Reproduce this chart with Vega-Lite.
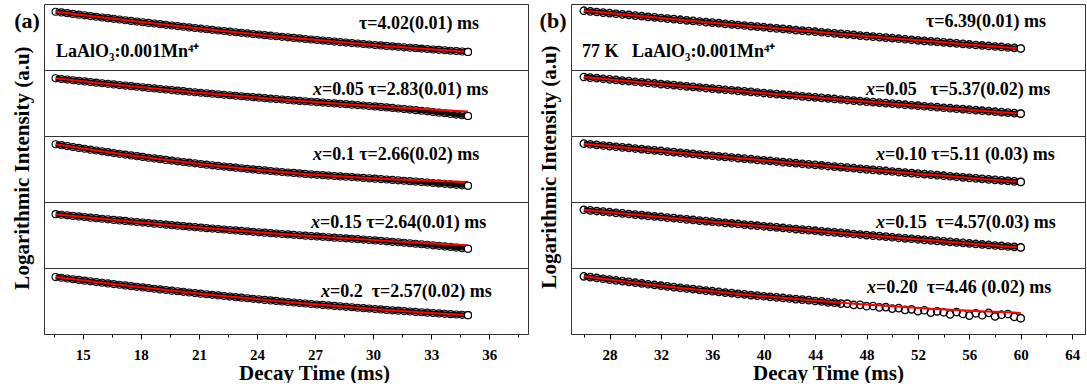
{
"$schema": "https://vega.github.io/schema/vega-lite/v6.json",
"padding": {"left": 11, "top": 0, "right": 0, "bottom": 0},
"background": "white",
"spacing": 9,
"config": {
 "font": "Liberation Serif",
 "view": {"stroke": "#333333", "strokeWidth": 1},
 "axis": {"grid": false, "domainColor": "#000", "domainWidth": 1, "tickColor": "#000", "tickWidth": 1, "labelColor": "#000", "labelFont": "Liberation Serif", "labelFontSize": 15, "labelFontWeight": "bold", "labelPadding": 8, "labelOverlap": false, "labelFlush": false, "titleColor": "#000", "titleFont": "Liberation Serif", "titleFontSize": 21, "titleFontWeight": "bold", "titlePadding": 0},
 "header": {"titleFont": "Liberation Serif", "titleFontSize": 21, "titleFontWeight": "bold", "titleColor": "#000", "titlePadding": 1},
 "text": {"font": "Liberation Serif", "fontWeight": "bold", "fontSize": 18, "color": "#000"}
},
"datasets": {
"A": [
{"c":"a1","t":13.6,"v":88.3},{"c":"a1","t":13.9,"v":87.2},{"c":"a1","t":14.2,"v":86.1},{"c":"a1","t":14.5,"v":85.0},{"c":"a1","t":14.8,"v":83.9},{"c":"a1","t":15.1,"v":82.8},{"c":"a1","t":15.4,"v":81.7},{"c":"a1","t":15.7,"v":80.7},{"c":"a1","t":16.0,"v":79.6},{"c":"a1","t":16.3,"v":78.5},{"c":"a1","t":16.6,"v":77.5},{"c":"a1","t":16.9,"v":76.5},{"c":"a1","t":17.2,"v":75.4},{"c":"a1","t":17.5,"v":74.4},{"c":"a1","t":17.8,"v":73.4},{"c":"a1","t":18.1,"v":72.4},{"c":"a1","t":18.4,"v":71.4},{"c":"a1","t":18.7,"v":70.4},{"c":"a1","t":19.0,"v":69.4},{"c":"a1","t":19.3,"v":68.4},{"c":"a1","t":19.6,"v":67.4},{"c":"a1","t":19.9,"v":66.5},{"c":"a1","t":20.2,"v":65.5},{"c":"a1","t":20.5,"v":64.5},{"c":"a1","t":20.8,"v":63.6},{"c":"a1","t":21.1,"v":62.7},{"c":"a1","t":21.4,"v":61.7},{"c":"a1","t":21.7,"v":60.8},{"c":"a1","t":22.0,"v":59.9},{"c":"a1","t":22.3,"v":59.0},{"c":"a1","t":22.6,"v":58.1},{"c":"a1","t":22.9,"v":57.2},{"c":"a1","t":23.2,"v":56.3},{"c":"a1","t":23.5,"v":55.4},{"c":"a1","t":23.8,"v":54.5},{"c":"a1","t":24.1,"v":53.7},{"c":"a1","t":24.4,"v":52.8},{"c":"a1","t":24.7,"v":52.0},{"c":"a1","t":25.0,"v":51.1},{"c":"a1","t":25.3,"v":50.3},{"c":"a1","t":25.6,"v":49.5},{"c":"a1","t":25.9,"v":48.6},{"c":"a1","t":26.2,"v":47.8},{"c":"a1","t":26.5,"v":47.0},{"c":"a1","t":26.8,"v":46.2},{"c":"a1","t":27.1,"v":45.4},{"c":"a1","t":27.4,"v":44.6},{"c":"a1","t":27.7,"v":43.9},{"c":"a1","t":28.0,"v":43.1},{"c":"a1","t":28.3,"v":42.3},{"c":"a1","t":28.6,"v":41.6},{"c":"a1","t":28.9,"v":40.8},{"c":"a1","t":29.2,"v":40.1},{"c":"a1","t":29.5,"v":39.4},{"c":"a1","t":29.8,"v":38.6},{"c":"a1","t":30.1,"v":37.9},{"c":"a1","t":30.4,"v":37.2},{"c":"a1","t":30.7,"v":36.5},{"c":"a1","t":31.0,"v":35.8},{"c":"a1","t":31.3,"v":35.1},{"c":"a1","t":31.6,"v":34.4},{"c":"a1","t":31.9,"v":33.7},{"c":"a1","t":32.2,"v":33.1},{"c":"a1","t":32.5,"v":32.4},{"c":"a1","t":32.8,"v":31.8},{"c":"a1","t":33.1,"v":31.1},{"c":"a1","t":33.4,"v":30.5},{"c":"a1","t":33.7,"v":29.9},{"c":"a1","t":34.0,"v":29.2},{"c":"a1","t":34.3,"v":28.6},{"c":"a1","t":34.6,"v":28.0},{"c":"a1","t":34.9,"v":27.4},
{"c":"a2","t":13.6,"v":87.4},{"c":"a2","t":13.9,"v":86.4},{"c":"a2","t":14.2,"v":85.5},{"c":"a2","t":14.5,"v":84.5},{"c":"a2","t":14.8,"v":83.6},{"c":"a2","t":15.1,"v":82.7},{"c":"a2","t":15.4,"v":81.7},{"c":"a2","t":15.7,"v":80.8},{"c":"a2","t":16.0,"v":79.9},{"c":"a2","t":16.3,"v":79.0},{"c":"a2","t":16.6,"v":78.1},{"c":"a2","t":16.9,"v":77.2},{"c":"a2","t":17.2,"v":76.4},{"c":"a2","t":17.5,"v":75.5},{"c":"a2","t":17.8,"v":74.6},{"c":"a2","t":18.1,"v":73.8},{"c":"a2","t":18.4,"v":72.9},{"c":"a2","t":18.7,"v":72.1},{"c":"a2","t":19.0,"v":71.2},{"c":"a2","t":19.3,"v":70.4},{"c":"a2","t":19.6,"v":69.6},{"c":"a2","t":19.9,"v":68.7},{"c":"a2","t":20.2,"v":67.9},{"c":"a2","t":20.5,"v":67.1},{"c":"a2","t":20.8,"v":66.3},{"c":"a2","t":21.1,"v":65.5},{"c":"a2","t":21.4,"v":64.8},{"c":"a2","t":21.7,"v":64.0},{"c":"a2","t":22.0,"v":63.2},{"c":"a2","t":22.3,"v":62.5},{"c":"a2","t":22.6,"v":61.7},{"c":"a2","t":22.9,"v":61.0},{"c":"a2","t":23.2,"v":60.2},{"c":"a2","t":23.5,"v":59.5},{"c":"a2","t":23.8,"v":58.8},{"c":"a2","t":24.1,"v":58.1},{"c":"a2","t":24.4,"v":57.3},{"c":"a2","t":24.7,"v":56.6},{"c":"a2","t":25.0,"v":55.9},{"c":"a2","t":25.3,"v":55.3},{"c":"a2","t":25.6,"v":54.6},{"c":"a2","t":25.9,"v":53.9},{"c":"a2","t":26.2,"v":53.2},{"c":"a2","t":26.5,"v":52.6},{"c":"a2","t":26.8,"v":51.9},{"c":"a2","t":27.1,"v":51.3},{"c":"a2","t":27.4,"v":50.6},{"c":"a2","t":27.7,"v":50.0},{"c":"a2","t":28.0,"v":49.4},{"c":"a2","t":28.3,"v":48.8},{"c":"a2","t":28.6,"v":48.2},{"c":"a2","t":28.9,"v":47.5},{"c":"a2","t":29.2,"v":46.9},{"c":"a2","t":29.5,"v":46.2},{"c":"a2","t":29.8,"v":45.5},{"c":"a2","t":30.1,"v":44.8},{"c":"a2","t":30.4,"v":44.1},{"c":"a2","t":30.7,"v":43.3},{"c":"a2","t":31.0,"v":42.5},{"c":"a2","t":31.3,"v":41.7},{"c":"a2","t":31.6,"v":40.9},{"c":"a2","t":31.9,"v":40.0},{"c":"a2","t":32.2,"v":39.2},{"c":"a2","t":32.5,"v":38.3},{"c":"a2","t":32.8,"v":37.4},{"c":"a2","t":33.1,"v":36.4},{"c":"a2","t":33.4,"v":35.4},{"c":"a2","t":33.7,"v":34.5},{"c":"a2","t":34.0,"v":33.5},{"c":"a2","t":34.3,"v":32.4},{"c":"a2","t":34.6,"v":31.4},{"c":"a2","t":34.9,"v":30.3},
{"c":"a3","t":13.6,"v":87.5},{"c":"a3","t":13.9,"v":86.1},{"c":"a3","t":14.2,"v":84.7},{"c":"a3","t":14.5,"v":83.3},{"c":"a3","t":14.8,"v":82.0},{"c":"a3","t":15.1,"v":80.7},{"c":"a3","t":15.4,"v":79.3},{"c":"a3","t":15.7,"v":78.0},{"c":"a3","t":16.0,"v":76.8},{"c":"a3","t":16.3,"v":75.5},{"c":"a3","t":16.6,"v":74.3},{"c":"a3","t":16.9,"v":73.0},{"c":"a3","t":17.2,"v":71.8},{"c":"a3","t":17.5,"v":70.6},{"c":"a3","t":17.8,"v":69.4},{"c":"a3","t":18.1,"v":68.3},{"c":"a3","t":18.4,"v":67.1},{"c":"a3","t":18.7,"v":66.0},{"c":"a3","t":19.0,"v":64.9},{"c":"a3","t":19.3,"v":63.8},{"c":"a3","t":19.6,"v":62.7},{"c":"a3","t":19.9,"v":61.6},{"c":"a3","t":20.2,"v":60.6},{"c":"a3","t":20.5,"v":59.6},{"c":"a3","t":20.8,"v":58.6},{"c":"a3","t":21.1,"v":57.6},{"c":"a3","t":21.4,"v":56.6},{"c":"a3","t":21.7,"v":55.6},{"c":"a3","t":22.0,"v":54.7},{"c":"a3","t":22.3,"v":53.7},{"c":"a3","t":22.6,"v":52.8},{"c":"a3","t":22.9,"v":52.0},{"c":"a3","t":23.2,"v":51.1},{"c":"a3","t":23.5,"v":50.2},{"c":"a3","t":23.8,"v":49.4},{"c":"a3","t":24.1,"v":48.6},{"c":"a3","t":24.4,"v":47.8},{"c":"a3","t":24.7,"v":47.0},{"c":"a3","t":25.0,"v":46.2},{"c":"a3","t":25.3,"v":45.4},{"c":"a3","t":25.6,"v":44.7},{"c":"a3","t":25.9,"v":44.0},{"c":"a3","t":26.2,"v":43.3},{"c":"a3","t":26.5,"v":42.6},{"c":"a3","t":26.8,"v":41.9},{"c":"a3","t":27.1,"v":41.2},{"c":"a3","t":27.4,"v":40.6},{"c":"a3","t":27.7,"v":40.0},{"c":"a3","t":28.0,"v":39.4},{"c":"a3","t":28.3,"v":38.8},{"c":"a3","t":28.6,"v":38.2},{"c":"a3","t":28.9,"v":37.7},{"c":"a3","t":29.2,"v":37.1},{"c":"a3","t":29.5,"v":36.5},{"c":"a3","t":29.8,"v":35.9},{"c":"a3","t":30.1,"v":35.3},{"c":"a3","t":30.4,"v":34.7},{"c":"a3","t":30.7,"v":34.1},{"c":"a3","t":31.0,"v":33.4},{"c":"a3","t":31.3,"v":32.8},{"c":"a3","t":31.6,"v":32.2},{"c":"a3","t":31.9,"v":31.5},{"c":"a3","t":32.2,"v":30.9},{"c":"a3","t":32.5,"v":30.2},{"c":"a3","t":32.8,"v":29.5},{"c":"a3","t":33.1,"v":28.8},{"c":"a3","t":33.4,"v":28.2},{"c":"a3","t":33.7,"v":27.5},{"c":"a3","t":34.0,"v":26.8},{"c":"a3","t":34.3,"v":26.0},{"c":"a3","t":34.6,"v":25.3},{"c":"a3","t":34.9,"v":24.6},
{"c":"a4","t":13.6,"v":81.6},{"c":"a4","t":13.9,"v":80.7},{"c":"a4","t":14.2,"v":79.8},{"c":"a4","t":14.5,"v":78.9},{"c":"a4","t":14.8,"v":78.1},{"c":"a4","t":15.1,"v":77.2},{"c":"a4","t":15.4,"v":76.3},{"c":"a4","t":15.7,"v":75.5},{"c":"a4","t":16.0,"v":74.6},{"c":"a4","t":16.3,"v":73.8},{"c":"a4","t":16.6,"v":72.9},{"c":"a4","t":16.9,"v":72.1},{"c":"a4","t":17.2,"v":71.3},{"c":"a4","t":17.5,"v":70.4},{"c":"a4","t":17.8,"v":69.6},{"c":"a4","t":18.1,"v":68.8},{"c":"a4","t":18.4,"v":68.0},{"c":"a4","t":18.7,"v":67.2},{"c":"a4","t":19.0,"v":66.5},{"c":"a4","t":19.3,"v":65.7},{"c":"a4","t":19.6,"v":64.9},{"c":"a4","t":19.9,"v":64.1},{"c":"a4","t":20.2,"v":63.4},{"c":"a4","t":20.5,"v":62.6},{"c":"a4","t":20.8,"v":61.9},{"c":"a4","t":21.1,"v":61.1},{"c":"a4","t":21.4,"v":60.4},{"c":"a4","t":21.7,"v":59.7},{"c":"a4","t":22.0,"v":59.0},{"c":"a4","t":22.3,"v":58.3},{"c":"a4","t":22.6,"v":57.6},{"c":"a4","t":22.9,"v":56.9},{"c":"a4","t":23.2,"v":56.2},{"c":"a4","t":23.5,"v":55.5},{"c":"a4","t":23.8,"v":54.8},{"c":"a4","t":24.1,"v":54.1},{"c":"a4","t":24.4,"v":53.5},{"c":"a4","t":24.7,"v":52.8},{"c":"a4","t":25.0,"v":52.2},{"c":"a4","t":25.3,"v":51.5},{"c":"a4","t":25.6,"v":50.9},{"c":"a4","t":25.9,"v":50.2},{"c":"a4","t":26.2,"v":49.6},{"c":"a4","t":26.5,"v":49.0},{"c":"a4","t":26.8,"v":48.4},{"c":"a4","t":27.1,"v":47.8},{"c":"a4","t":27.4,"v":47.2},{"c":"a4","t":27.7,"v":46.6},{"c":"a4","t":28.0,"v":46.0},{"c":"a4","t":28.3,"v":45.4},{"c":"a4","t":28.6,"v":44.9},{"c":"a4","t":28.9,"v":44.3},{"c":"a4","t":29.2,"v":43.7},{"c":"a4","t":29.5,"v":43.1},{"c":"a4","t":29.8,"v":42.4},{"c":"a4","t":30.1,"v":41.8},{"c":"a4","t":30.4,"v":41.1},{"c":"a4","t":30.7,"v":40.4},{"c":"a4","t":31.0,"v":39.7},{"c":"a4","t":31.3,"v":39.0},{"c":"a4","t":31.6,"v":38.3},{"c":"a4","t":31.9,"v":37.5},{"c":"a4","t":32.2,"v":36.8},{"c":"a4","t":32.5,"v":36.0},{"c":"a4","t":32.8,"v":35.2},{"c":"a4","t":33.1,"v":34.4},{"c":"a4","t":33.4,"v":33.6},{"c":"a4","t":33.7,"v":32.7},{"c":"a4","t":34.0,"v":31.9},{"c":"a4","t":34.3,"v":31.0},{"c":"a4","t":34.6,"v":30.1},{"c":"a4","t":34.9,"v":29.2},
{"c":"a5","t":13.6,"v":86.3},{"c":"a5","t":13.9,"v":85.2},{"c":"a5","t":14.2,"v":84.1},{"c":"a5","t":14.5,"v":83.0},{"c":"a5","t":14.8,"v":81.9},{"c":"a5","t":15.1,"v":80.8},{"c":"a5","t":15.4,"v":79.8},{"c":"a5","t":15.7,"v":78.7},{"c":"a5","t":16.0,"v":77.7},{"c":"a5","t":16.3,"v":76.6},{"c":"a5","t":16.6,"v":75.6},{"c":"a5","t":16.9,"v":74.6},{"c":"a5","t":17.2,"v":73.6},{"c":"a5","t":17.5,"v":72.5},{"c":"a5","t":17.8,"v":71.5},{"c":"a5","t":18.1,"v":70.6},{"c":"a5","t":18.4,"v":69.6},{"c":"a5","t":18.7,"v":68.6},{"c":"a5","t":19.0,"v":67.6},{"c":"a5","t":19.3,"v":66.7},{"c":"a5","t":19.6,"v":65.7},{"c":"a5","t":19.9,"v":64.8},{"c":"a5","t":20.2,"v":63.9},{"c":"a5","t":20.5,"v":62.9},{"c":"a5","t":20.8,"v":62.0},{"c":"a5","t":21.1,"v":61.1},{"c":"a5","t":21.4,"v":60.2},{"c":"a5","t":21.7,"v":59.3},{"c":"a5","t":22.0,"v":58.4},{"c":"a5","t":22.3,"v":57.6},{"c":"a5","t":22.6,"v":56.7},{"c":"a5","t":22.9,"v":55.8},{"c":"a5","t":23.2,"v":55.0},{"c":"a5","t":23.5,"v":54.2},{"c":"a5","t":23.8,"v":53.3},{"c":"a5","t":24.1,"v":52.5},{"c":"a5","t":24.4,"v":51.7},{"c":"a5","t":24.7,"v":50.9},{"c":"a5","t":25.0,"v":50.1},{"c":"a5","t":25.3,"v":49.3},{"c":"a5","t":25.6,"v":48.5},{"c":"a5","t":25.9,"v":47.7},{"c":"a5","t":26.2,"v":47.0},{"c":"a5","t":26.5,"v":46.2},{"c":"a5","t":26.8,"v":45.5},{"c":"a5","t":27.1,"v":44.7},{"c":"a5","t":27.4,"v":44.0},{"c":"a5","t":27.7,"v":43.3},{"c":"a5","t":28.0,"v":42.6},{"c":"a5","t":28.3,"v":41.9},{"c":"a5","t":28.6,"v":41.2},{"c":"a5","t":28.9,"v":40.5},{"c":"a5","t":29.2,"v":39.8},{"c":"a5","t":29.5,"v":39.1},{"c":"a5","t":29.8,"v":38.5},{"c":"a5","t":30.1,"v":37.8},{"c":"a5","t":30.4,"v":37.2},{"c":"a5","t":30.7,"v":36.5},{"c":"a5","t":31.0,"v":35.9},{"c":"a5","t":31.3,"v":35.3},{"c":"a5","t":31.6,"v":34.7},{"c":"a5","t":31.9,"v":34.1},{"c":"a5","t":32.2,"v":33.5},{"c":"a5","t":32.5,"v":32.9},{"c":"a5","t":32.8,"v":32.3},{"c":"a5","t":33.1,"v":31.7},{"c":"a5","t":33.4,"v":31.2},{"c":"a5","t":33.7,"v":30.6},{"c":"a5","t":34.0,"v":30.1},{"c":"a5","t":34.3,"v":29.5},{"c":"a5","t":34.6,"v":29.0},{"c":"a5","t":34.9,"v":28.5},
{"c":"a1","t":13.6,"f":88.3},{"c":"a1","t":15.7,"f":80.7},{"c":"a1","t":17.8,"f":73.4},{"c":"a1","t":19.9,"f":66.5},{"c":"a1","t":22.0,"f":59.9},{"c":"a1","t":24.4,"f":52.8},{"c":"a1","t":26.5,"f":47.0},{"c":"a1","t":28.6,"f":41.6},{"c":"a1","t":30.7,"f":36.5},{"c":"a1","t":32.8,"f":31.8},{"c":"a1","t":34.9,"f":27.4},
{"c":"a2","t":13.6,"f":87.4},{"c":"a2","t":15.7,"f":80.8},{"c":"a2","t":17.8,"f":74.6},{"c":"a2","t":19.9,"f":68.7},{"c":"a2","t":22.0,"f":63.2},{"c":"a2","t":24.4,"f":57.3},{"c":"a2","t":26.5,"f":52.6},{"c":"a2","t":28.6,"f":48.2},{"c":"a2","t":30.7,"f":44.1},{"c":"a2","t":32.8,"f":40.4},{"c":"a2","t":34.9,"f":37.0},
{"c":"a3","t":13.6,"f":87.5},{"c":"a3","t":15.7,"f":78.0},{"c":"a3","t":17.8,"f":69.4},{"c":"a3","t":19.9,"f":61.6},{"c":"a3","t":22.0,"f":54.7},{"c":"a3","t":24.4,"f":47.8},{"c":"a3","t":26.5,"f":42.6},{"c":"a3","t":28.6,"f":38.2},{"c":"a3","t":30.7,"f":34.7},{"c":"a3","t":32.8,"f":32.1},{"c":"a3","t":34.9,"f":30.2},
{"c":"a4","t":13.6,"f":81.6},{"c":"a4","t":15.7,"f":75.5},{"c":"a4","t":17.8,"f":69.6},{"c":"a4","t":19.9,"f":64.1},{"c":"a4","t":22.0,"f":59.0},{"c":"a4","t":24.4,"f":53.5},{"c":"a4","t":26.5,"f":49.0},{"c":"a4","t":28.6,"f":44.9},{"c":"a4","t":30.7,"f":41.1},{"c":"a4","t":32.8,"f":37.6},{"c":"a4","t":34.9,"f":34.4},
{"c":"a5","t":13.6,"f":86.3},{"c":"a5","t":15.7,"f":78.7},{"c":"a5","t":17.8,"f":71.5},{"c":"a5","t":19.9,"f":64.8},{"c":"a5","t":22.0,"f":58.4},{"c":"a5","t":24.4,"f":51.7},{"c":"a5","t":26.5,"f":46.2},{"c":"a5","t":28.6,"f":41.2},{"c":"a5","t":30.7,"f":36.5},{"c":"a5","t":32.8,"f":32.3},{"c":"a5","t":34.9,"f":28.5},
{"c":"a1","t":12.12,"ly":74.2,"p":"(a)"},
{"c":"a1","t":29.27,"ly":69.6,"lab":"τ=4.02(0.01) ms"},
{"c":"a1","t":13.62,"ly":26.9,"lab":"LaAlO₃:0.001Mn⁴⁺"},
{"c":"a2","t":26.89,"ly":69.7,"x":"x","lab":"=0.05 τ=2.83(0.01) ms"},
{"c":"a3","t":26.89,"ly":71.3,"x":"x","lab":"=0.1 τ=2.66(0.02) ms"},
{"c":"a4","t":26.79,"ly":68.8,"x":"x","lab":"=0.15 τ=2.64(0.01) ms"},
{"c":"a5","t":27.31,"ly":64.2,"x":"x","lab":"=0.2\u00a0\u00a0τ=2.57(0.02) ms"}
],
"B": [
{"c":"b1","t":26.0,"v":89.8},{"c":"b1","t":26.5,"v":88.9},{"c":"b1","t":27.0,"v":87.9},{"c":"b1","t":27.5,"v":87.0},{"c":"b1","t":28.0,"v":86.1},{"c":"b1","t":28.5,"v":85.2},{"c":"b1","t":29.0,"v":84.3},{"c":"b1","t":29.5,"v":83.4},{"c":"b1","t":30.0,"v":82.4},{"c":"b1","t":30.5,"v":81.5},{"c":"b1","t":31.0,"v":80.6},{"c":"b1","t":31.5,"v":79.7},{"c":"b1","t":32.0,"v":78.8},{"c":"b1","t":32.5,"v":77.9},{"c":"b1","t":33.0,"v":77.0},{"c":"b1","t":33.5,"v":76.2},{"c":"b1","t":34.0,"v":75.3},{"c":"b1","t":34.5,"v":74.4},{"c":"b1","t":35.0,"v":73.5},{"c":"b1","t":35.5,"v":72.6},{"c":"b1","t":36.0,"v":71.7},{"c":"b1","t":36.5,"v":70.9},{"c":"b1","t":37.0,"v":70.0},{"c":"b1","t":37.5,"v":69.1},{"c":"b1","t":38.0,"v":68.2},{"c":"b1","t":38.5,"v":67.4},{"c":"b1","t":39.0,"v":66.5},{"c":"b1","t":39.5,"v":65.7},{"c":"b1","t":40.0,"v":64.8},{"c":"b1","t":40.5,"v":63.9},{"c":"b1","t":41.0,"v":63.1},{"c":"b1","t":41.5,"v":62.2},{"c":"b1","t":42.0,"v":61.4},{"c":"b1","t":42.5,"v":60.5},{"c":"b1","t":43.0,"v":59.7},{"c":"b1","t":43.5,"v":58.9},{"c":"b1","t":44.0,"v":58.0},{"c":"b1","t":44.5,"v":57.2},{"c":"b1","t":45.0,"v":56.4},{"c":"b1","t":45.5,"v":55.5},{"c":"b1","t":46.0,"v":54.7},{"c":"b1","t":46.5,"v":53.9},{"c":"b1","t":47.0,"v":53.1},{"c":"b1","t":47.5,"v":52.2},{"c":"b1","t":48.0,"v":51.4},{"c":"b1","t":48.5,"v":50.6},{"c":"b1","t":49.0,"v":49.8},{"c":"b1","t":49.5,"v":49.0},{"c":"b1","t":50.0,"v":48.2},{"c":"b1","t":50.5,"v":47.4},{"c":"b1","t":51.0,"v":46.6},{"c":"b1","t":51.5,"v":45.8},{"c":"b1","t":52.0,"v":45.0},{"c":"b1","t":52.5,"v":44.2},{"c":"b1","t":53.0,"v":43.4},{"c":"b1","t":53.5,"v":42.6},{"c":"b1","t":54.0,"v":41.8},{"c":"b1","t":54.5,"v":41.0},{"c":"b1","t":55.0,"v":40.3},{"c":"b1","t":55.5,"v":39.5},{"c":"b1","t":56.0,"v":38.7},{"c":"b1","t":56.5,"v":37.9},{"c":"b1","t":57.0,"v":37.2},{"c":"b1","t":57.5,"v":36.4},{"c":"b1","t":58.0,"v":35.6},{"c":"b1","t":58.5,"v":34.9},{"c":"b1","t":59.0,"v":34.1},{"c":"b1","t":59.5,"v":33.4},{"c":"b1","t":60.0,"v":32.6},
{"c":"b2","t":26.0,"v":89.4},{"c":"b2","t":26.5,"v":88.5},{"c":"b2","t":27.0,"v":87.6},{"c":"b2","t":27.5,"v":86.7},{"c":"b2","t":28.0,"v":85.8},{"c":"b2","t":28.5,"v":84.9},{"c":"b2","t":29.0,"v":84.0},{"c":"b2","t":29.5,"v":83.1},{"c":"b2","t":30.0,"v":82.2},{"c":"b2","t":30.5,"v":81.4},{"c":"b2","t":31.0,"v":80.5},{"c":"b2","t":31.5,"v":79.6},{"c":"b2","t":32.0,"v":78.7},{"c":"b2","t":32.5,"v":77.9},{"c":"b2","t":33.0,"v":77.0},{"c":"b2","t":33.5,"v":76.1},{"c":"b2","t":34.0,"v":75.3},{"c":"b2","t":34.5,"v":74.4},{"c":"b2","t":35.0,"v":73.5},{"c":"b2","t":35.5,"v":72.7},{"c":"b2","t":36.0,"v":71.8},{"c":"b2","t":36.5,"v":71.0},{"c":"b2","t":37.0,"v":70.1},{"c":"b2","t":37.5,"v":69.3},{"c":"b2","t":38.0,"v":68.4},{"c":"b2","t":38.5,"v":67.6},{"c":"b2","t":39.0,"v":66.8},{"c":"b2","t":39.5,"v":65.9},{"c":"b2","t":40.0,"v":65.1},{"c":"b2","t":40.5,"v":64.3},{"c":"b2","t":41.0,"v":63.4},{"c":"b2","t":41.5,"v":62.6},{"c":"b2","t":42.0,"v":61.8},{"c":"b2","t":42.5,"v":61.0},{"c":"b2","t":43.0,"v":60.1},{"c":"b2","t":43.5,"v":59.3},{"c":"b2","t":44.0,"v":58.5},{"c":"b2","t":44.5,"v":57.7},{"c":"b2","t":45.0,"v":56.9},{"c":"b2","t":45.5,"v":56.1},{"c":"b2","t":46.0,"v":55.3},{"c":"b2","t":46.5,"v":54.5},{"c":"b2","t":47.0,"v":53.7},{"c":"b2","t":47.5,"v":52.9},{"c":"b2","t":48.0,"v":52.1},{"c":"b2","t":48.5,"v":51.3},{"c":"b2","t":49.0,"v":50.5},{"c":"b2","t":49.5,"v":49.8},{"c":"b2","t":50.0,"v":49.0},{"c":"b2","t":50.5,"v":48.2},{"c":"b2","t":51.0,"v":47.4},{"c":"b2","t":51.5,"v":46.6},{"c":"b2","t":52.0,"v":45.9},{"c":"b2","t":52.5,"v":45.1},{"c":"b2","t":53.0,"v":44.3},{"c":"b2","t":53.5,"v":43.6},{"c":"b2","t":54.0,"v":42.8},{"c":"b2","t":54.5,"v":42.1},{"c":"b2","t":55.0,"v":41.3},{"c":"b2","t":55.5,"v":40.6},{"c":"b2","t":56.0,"v":39.8},{"c":"b2","t":56.5,"v":39.1},{"c":"b2","t":57.0,"v":38.3},{"c":"b2","t":57.5,"v":37.6},{"c":"b2","t":58.0,"v":36.8},{"c":"b2","t":58.5,"v":36.1},{"c":"b2","t":59.0,"v":35.4},{"c":"b2","t":59.5,"v":34.6},{"c":"b2","t":60.0,"v":33.9},
{"c":"b3","t":26.0,"v":88.4},{"c":"b3","t":26.5,"v":87.5},{"c":"b3","t":27.0,"v":86.5},{"c":"b3","t":27.5,"v":85.6},{"c":"b3","t":28.0,"v":84.7},{"c":"b3","t":28.5,"v":83.7},{"c":"b3","t":29.0,"v":82.8},{"c":"b3","t":29.5,"v":81.9},{"c":"b3","t":30.0,"v":81.0},{"c":"b3","t":30.5,"v":80.0},{"c":"b3","t":31.0,"v":79.1},{"c":"b3","t":31.5,"v":78.2},{"c":"b3","t":32.0,"v":77.3},{"c":"b3","t":32.5,"v":76.4},{"c":"b3","t":33.0,"v":75.5},{"c":"b3","t":33.5,"v":74.6},{"c":"b3","t":34.0,"v":73.7},{"c":"b3","t":34.5,"v":72.8},{"c":"b3","t":35.0,"v":71.9},{"c":"b3","t":35.5,"v":71.0},{"c":"b3","t":36.0,"v":70.1},{"c":"b3","t":36.5,"v":69.2},{"c":"b3","t":37.0,"v":68.3},{"c":"b3","t":37.5,"v":67.4},{"c":"b3","t":38.0,"v":66.6},{"c":"b3","t":38.5,"v":65.7},{"c":"b3","t":39.0,"v":64.8},{"c":"b3","t":39.5,"v":63.9},{"c":"b3","t":40.0,"v":63.1},{"c":"b3","t":40.5,"v":62.2},{"c":"b3","t":41.0,"v":61.3},{"c":"b3","t":41.5,"v":60.5},{"c":"b3","t":42.0,"v":59.6},{"c":"b3","t":42.5,"v":58.8},{"c":"b3","t":43.0,"v":57.9},{"c":"b3","t":43.5,"v":57.0},{"c":"b3","t":44.0,"v":56.2},{"c":"b3","t":44.5,"v":55.4},{"c":"b3","t":45.0,"v":54.5},{"c":"b3","t":45.5,"v":53.7},{"c":"b3","t":46.0,"v":52.8},{"c":"b3","t":46.5,"v":52.0},{"c":"b3","t":47.0,"v":51.2},{"c":"b3","t":47.5,"v":50.3},{"c":"b3","t":48.0,"v":49.5},{"c":"b3","t":48.5,"v":48.7},{"c":"b3","t":49.0,"v":47.9},{"c":"b3","t":49.5,"v":47.0},{"c":"b3","t":50.0,"v":46.2},{"c":"b3","t":50.5,"v":45.4},{"c":"b3","t":51.0,"v":44.6},{"c":"b3","t":51.5,"v":43.8},{"c":"b3","t":52.0,"v":43.0},{"c":"b3","t":52.5,"v":42.2},{"c":"b3","t":53.0,"v":41.4},{"c":"b3","t":53.5,"v":40.6},{"c":"b3","t":54.0,"v":39.8},{"c":"b3","t":54.5,"v":39.0},{"c":"b3","t":55.0,"v":38.2},{"c":"b3","t":55.5,"v":37.4},{"c":"b3","t":56.0,"v":36.6},{"c":"b3","t":56.5,"v":35.8},{"c":"b3","t":57.0,"v":35.0},{"c":"b3","t":57.5,"v":34.3},{"c":"b3","t":58.0,"v":33.5},{"c":"b3","t":58.5,"v":32.7},{"c":"b3","t":59.0,"v":31.9},{"c":"b3","t":59.5,"v":31.2},{"c":"b3","t":60.0,"v":30.4},
{"c":"b4","t":26.0,"v":88.2},{"c":"b4","t":26.5,"v":87.3},{"c":"b4","t":27.0,"v":86.3},{"c":"b4","t":27.5,"v":85.4},{"c":"b4","t":28.0,"v":84.5},{"c":"b4","t":28.5,"v":83.6},{"c":"b4","t":29.0,"v":82.7},{"c":"b4","t":29.5,"v":81.8},{"c":"b4","t":30.0,"v":80.9},{"c":"b4","t":30.5,"v":80.0},{"c":"b4","t":31.0,"v":79.1},{"c":"b4","t":31.5,"v":78.1},{"c":"b4","t":32.0,"v":77.3},{"c":"b4","t":32.5,"v":76.4},{"c":"b4","t":33.0,"v":75.5},{"c":"b4","t":33.5,"v":74.6},{"c":"b4","t":34.0,"v":73.7},{"c":"b4","t":34.5,"v":72.8},{"c":"b4","t":35.0,"v":71.9},{"c":"b4","t":35.5,"v":71.0},{"c":"b4","t":36.0,"v":70.2},{"c":"b4","t":36.5,"v":69.3},{"c":"b4","t":37.0,"v":68.4},{"c":"b4","t":37.5,"v":67.5},{"c":"b4","t":38.0,"v":66.7},{"c":"b4","t":38.5,"v":65.8},{"c":"b4","t":39.0,"v":65.0},{"c":"b4","t":39.5,"v":64.1},{"c":"b4","t":40.0,"v":63.2},{"c":"b4","t":40.5,"v":62.4},{"c":"b4","t":41.0,"v":61.5},{"c":"b4","t":41.5,"v":60.7},{"c":"b4","t":42.0,"v":59.8},{"c":"b4","t":42.5,"v":59.0},{"c":"b4","t":43.0,"v":58.2},{"c":"b4","t":43.5,"v":57.3},{"c":"b4","t":44.0,"v":56.5},{"c":"b4","t":44.5,"v":55.6},{"c":"b4","t":45.0,"v":54.8},{"c":"b4","t":45.5,"v":54.0},{"c":"b4","t":46.0,"v":53.2},{"c":"b4","t":46.5,"v":52.3},{"c":"b4","t":47.0,"v":51.5},{"c":"b4","t":47.5,"v":50.7},{"c":"b4","t":48.0,"v":49.9},{"c":"b4","t":48.5,"v":49.1},{"c":"b4","t":49.0,"v":48.3},{"c":"b4","t":49.5,"v":47.5},{"c":"b4","t":50.0,"v":46.6},{"c":"b4","t":50.5,"v":45.8},{"c":"b4","t":51.0,"v":45.0},{"c":"b4","t":51.5,"v":44.3},{"c":"b4","t":52.0,"v":43.5},{"c":"b4","t":52.5,"v":42.7},{"c":"b4","t":53.0,"v":41.9},{"c":"b4","t":53.5,"v":41.1},{"c":"b4","t":54.0,"v":40.3},{"c":"b4","t":54.5,"v":39.5},{"c":"b4","t":55.0,"v":38.7},{"c":"b4","t":55.5,"v":38.0},{"c":"b4","t":56.0,"v":37.2},{"c":"b4","t":56.5,"v":36.4},{"c":"b4","t":57.0,"v":35.7},{"c":"b4","t":57.5,"v":34.9},{"c":"b4","t":58.0,"v":34.1},{"c":"b4","t":58.5,"v":33.4},{"c":"b4","t":59.0,"v":32.6},{"c":"b4","t":59.5,"v":31.9},{"c":"b4","t":60.0,"v":31.1},
{"c":"b5","t":26.0,"v":87.4},{"c":"b5","t":26.5,"v":86.1},{"c":"b5","t":27.0,"v":84.9},{"c":"b5","t":27.5,"v":83.7},{"c":"b5","t":28.0,"v":82.5},{"c":"b5","t":28.5,"v":81.3},{"c":"b5","t":29.0,"v":80.1},{"c":"b5","t":29.5,"v":78.9},{"c":"b5","t":30.0,"v":77.7},{"c":"b5","t":30.5,"v":76.6},{"c":"b5","t":31.0,"v":75.4},{"c":"b5","t":31.5,"v":74.3},{"c":"b5","t":32.0,"v":73.2},{"c":"b5","t":32.5,"v":72.1},{"c":"b5","t":33.0,"v":71.0},{"c":"b5","t":33.5,"v":70.0},{"c":"b5","t":34.0,"v":68.9},{"c":"b5","t":34.5,"v":67.9},{"c":"b5","t":35.0,"v":66.8},{"c":"b5","t":35.5,"v":65.8},{"c":"b5","t":36.0,"v":64.8},{"c":"b5","t":36.5,"v":63.8},{"c":"b5","t":37.0,"v":62.8},{"c":"b5","t":37.5,"v":61.9},{"c":"b5","t":38.0,"v":60.9},{"c":"b5","t":38.5,"v":60.0},{"c":"b5","t":39.0,"v":59.0},{"c":"b5","t":39.5,"v":58.1},{"c":"b5","t":40.0,"v":57.2},{"c":"b5","t":40.5,"v":56.3},{"c":"b5","t":41.0,"v":55.5},{"c":"b5","t":41.5,"v":54.6},{"c":"b5","t":42.0,"v":53.8},{"c":"b5","t":42.5,"v":52.9},{"c":"b5","t":43.0,"v":52.1},{"c":"b5","t":43.5,"v":51.3},{"c":"b5","t":44.0,"v":50.0},{"c":"b5","t":44.5,"v":49.4},{"c":"b5","t":45.0,"v":47.9},{"c":"b5","t":45.5,"v":47.6},{"c":"b5","t":46.0,"v":45.9},{"c":"b5","t":46.5,"v":45.9},{"c":"b5","t":47.0,"v":44.0},{"c":"b5","t":47.5,"v":44.1},{"c":"b5","t":48.0,"v":42.1},{"c":"b5","t":48.5,"v":42.4},{"c":"b5","t":49.0,"v":40.3},{"c":"b5","t":49.5,"v":40.6},{"c":"b5","t":50.0,"v":38.5},{"c":"b5","t":50.5,"v":39.2},{"c":"b5","t":51.0,"v":36.5},{"c":"b5","t":51.5,"v":37.4},{"c":"b5","t":52.0,"v":34.6},{"c":"b5","t":52.5,"v":36.0},{"c":"b5","t":53.0,"v":32.4},{"c":"b5","t":53.5,"v":34.4},{"c":"b5","t":54.0,"v":32.9},{"c":"b5","t":54.5,"v":29.8},{"c":"b5","t":55.0,"v":33.3},{"c":"b5","t":55.5,"v":30.3},{"c":"b5","t":56.0,"v":27.9},{"c":"b5","t":56.5,"v":31.4},{"c":"b5","t":57.0,"v":28.4},{"c":"b5","t":57.5,"v":32.0},{"c":"b5","t":58.0,"v":26.6},{"c":"b5","t":58.5,"v":29.2},{"c":"b5","t":59.0,"v":30.3},{"c":"b5","t":59.5,"v":25.9},{"c":"b5","t":60.0,"v":23.9},
{"c":"b1","t":26.0,"f":89.8},{"c":"b1","t":29.5,"f":83.4},{"c":"b1","t":33.0,"f":77.0},{"c":"b1","t":36.0,"f":71.7},{"c":"b1","t":39.5,"f":65.7},{"c":"b1","t":43.0,"f":59.7},{"c":"b1","t":46.5,"f":53.9},{"c":"b1","t":50.0,"f":48.2},{"c":"b1","t":53.0,"f":43.4},{"c":"b1","t":56.5,"f":37.9},{"c":"b1","t":60.0,"f":32.6},
{"c":"b2","t":26.0,"f":89.4},{"c":"b2","t":29.5,"f":83.1},{"c":"b2","t":33.0,"f":77.0},{"c":"b2","t":36.0,"f":71.8},{"c":"b2","t":39.5,"f":65.9},{"c":"b2","t":43.0,"f":60.1},{"c":"b2","t":46.5,"f":54.5},{"c":"b2","t":50.0,"f":49.0},{"c":"b2","t":53.0,"f":44.3},{"c":"b2","t":56.5,"f":39.1},{"c":"b2","t":60.0,"f":33.9},
{"c":"b3","t":26.0,"f":88.4},{"c":"b3","t":29.5,"f":81.9},{"c":"b3","t":33.0,"f":75.5},{"c":"b3","t":36.0,"f":70.1},{"c":"b3","t":39.5,"f":63.9},{"c":"b3","t":43.0,"f":57.9},{"c":"b3","t":46.5,"f":52.0},{"c":"b3","t":50.0,"f":46.2},{"c":"b3","t":53.0,"f":41.4},{"c":"b3","t":56.5,"f":35.8},{"c":"b3","t":60.0,"f":30.4},
{"c":"b4","t":26.0,"f":88.2},{"c":"b4","t":29.5,"f":81.8},{"c":"b4","t":33.0,"f":75.5},{"c":"b4","t":36.0,"f":70.2},{"c":"b4","t":39.5,"f":64.1},{"c":"b4","t":43.0,"f":58.2},{"c":"b4","t":46.5,"f":52.3},{"c":"b4","t":50.0,"f":46.6},{"c":"b4","t":53.0,"f":41.9},{"c":"b4","t":56.5,"f":36.4},{"c":"b4","t":60.0,"f":31.1},
{"c":"b5","t":26.0,"f":87.4},{"c":"b5","t":29.5,"f":78.9},{"c":"b5","t":33.0,"f":71.0},{"c":"b5","t":36.0,"f":64.8},{"c":"b5","t":39.5,"f":58.1},{"c":"b5","t":43.0,"f":52.1},{"c":"b5","t":46.5,"f":46.7},{"c":"b5","t":50.0,"f":42.0},{"c":"b5","t":53.0,"f":38.4},{"c":"b5","t":56.5,"f":34.9},{"c":"b5","t":60.0,"f":32.0},
{"c":"b1","t":23.6,"ly":74.2,"p":"(b)"},
{"c":"b1","t":52.63,"ly":72.6,"lab":"τ=6.39(0.01) ms"},
{"c":"b1","t":25.86,"ly":26.9,"lab":"77 K\u00a0\u00a0\u00a0LaAlO₃:0.001Mn⁴⁺"},
{"c":"b2","t":47.96,"ly":70.2,"x":"x","lab":"=0.05\u00a0\u00a0\u00a0τ=5.37(0.02) ms"},
{"c":"b3","t":48.74,"ly":71.0,"x":"x","lab":"=0.10 τ=5.11 (0.03) ms"},
{"c":"b4","t":48.74,"ly":68.9,"x":"x","lab":"=0.15\u00a0\u00a0τ=4.57(0.03) ms"},
{"c":"b5","t":48.04,"ly":69.6,"x":"x","lab":"=0.20\u00a0\u00a0τ=4.46 (0.02) ms"}
]
},
"hconcat": [
{
 "data": {"name": "A"},
 "bounds": "flush",
 "facet": {"row": {"field": "c", "type": "nominal", "sort": "ascending", "header": {"title": "Logarithmic Intensity (a.u)", "labels": false}}},
 "spacing": {"row": 0},
 "spec": {
  "width": 484, "height": 66,
  "encoding": {"x": {"field": "t", "type": "quantitative", "scale": {"domain": [13, 38], "nice": false, "zero": false},
    "axis": {"title": "Decay Time (ms)", "titleX": 270, "values": [13.5,15,16.5,18,19.5,21,22.5,24,25.5,27,28.5,30,31.5,33,34.5,36,37.5], "labelExpr": "datum.value % 3 == 0 ? datum.label : ''", "tickSize": {"condition": {"test": "datum.value % 3 == 0", "value": 5}, "value": 3}}}},
  "layer": [
   {"transform": [{"filter": "isValid(datum.v)"}], "mark": {"type": "line", "color": "#111111", "strokeWidth": 5}, "encoding": {"y": {"field": "v", "type": "quantitative", "scale": {"domain": [0, 100]}, "axis": null}}},
   {"transform": [{"filter": "isValid(datum.v)"}], "mark": {"type": "point", "shape": "circle", "filled": false, "color": "#000000", "strokeWidth": 1.1, "size": 50, "opacity": 1}, "encoding": {"y": {"field": "v", "type": "quantitative", "scale": {"domain": [0, 100]}, "axis": null}}},
   {"transform": [{"filter": "isValid(datum.f)"}], "mark": {"type": "line", "color": "#ff0000", "strokeWidth": 2, "interpolate": "monotone"}, "encoding": {"y": {"field": "f", "type": "quantitative", "scale": {"domain": [0, 100]}, "axis": null}}},
   {"transform": [{"filter": "isValid(datum.v)"}, {"joinaggregate": [{"op": "max", "field": "t", "as": "mt"}], "groupby": ["c"]}, {"filter": "datum.t == datum.mt"}], "mark": {"type": "point", "shape": "circle", "filled": true, "fill": "#ffffff", "stroke": "#000000", "strokeWidth": 1.1, "size": 50, "opacity": 1}, "encoding": {"y": {"field": "v", "type": "quantitative", "scale": {"domain": [0, 100]}, "axis": null}}},
   {"transform": [{"filter": "isValid(datum.lab) && !isValid(datum.x)"}], "mark": {"type": "text", "align": "left", "baseline": "middle"}, "encoding": {"y": {"field": "ly", "type": "quantitative", "scale": {"domain": [0, 100]}, "axis": null}, "text": {"field": "lab"}}},
   {"transform": [{"filter": "isValid(datum.x)"}], "mark": {"type": "text", "align": "left", "baseline": "middle", "dx": 9}, "encoding": {"y": {"field": "ly", "type": "quantitative", "scale": {"domain": [0, 100]}, "axis": null}, "text": {"field": "lab"}}},
   {"transform": [{"filter": "isValid(datum.x)"}], "mark": {"type": "text", "align": "left", "baseline": "middle", "fontStyle": "italic"}, "encoding": {"y": {"field": "ly", "type": "quantitative", "scale": {"domain": [0, 100]}, "axis": null}, "text": {"field": "x"}}},
   {"transform": [{"filter": "isValid(datum.p)"}], "mark": {"type": "text", "align": "center", "baseline": "middle", "fontSize": 22}, "encoding": {"y": {"field": "ly", "type": "quantitative", "scale": {"domain": [0, 100]}, "axis": null}, "text": {"field": "p"}}}
  ]
 }
},
{
 "data": {"name": "B"},
 "bounds": "flush",
 "facet": {"row": {"field": "c", "type": "nominal", "sort": "ascending", "header": {"title": "Logarithmic Intensity (a.u)", "labels": false}}},
 "spacing": {"row": 0},
 "spec": {
  "width": 514, "height": 66,
  "encoding": {"x": {"field": "t", "type": "quantitative", "scale": {"domain": [25, 65], "nice": false, "zero": false},
    "axis": {"title": "Decay Time (ms)", "values": [26,28,30,32,34,36,38,40,42,44,46,48,50,52,54,56,58,60,62,64], "labelExpr": "datum.value % 4 == 0 ? datum.label : ''", "tickSize": {"condition": {"test": "datum.value % 4 == 0", "value": 5}, "value": 3}}}},
  "layer": [
   {"transform": [{"filter": "isValid(datum.v) && (datum.c != 'b5' || datum.t <= 46)"}], "mark": {"type": "line", "color": "#111111", "strokeWidth": 5}, "encoding": {"y": {"field": "v", "type": "quantitative", "scale": {"domain": [0, 100]}, "axis": null}}},
   {"transform": [{"filter": "isValid(datum.v)"}], "mark": {"type": "point", "shape": "circle", "filled": false, "color": "#000000", "strokeWidth": 1.3, "size": 55, "opacity": 1}, "encoding": {"y": {"field": "v", "type": "quantitative", "scale": {"domain": [0, 100]}, "axis": null}}},
   {"transform": [{"filter": "isValid(datum.f)"}], "mark": {"type": "line", "color": "#ff0000", "strokeWidth": 2, "interpolate": "monotone"}, "encoding": {"y": {"field": "f", "type": "quantitative", "scale": {"domain": [0, 100]}, "axis": null}}},
   {"transform": [{"filter": "isValid(datum.v)"}, {"joinaggregate": [{"op": "max", "field": "t", "as": "mt"}], "groupby": ["c"]}, {"filter": "datum.t == datum.mt"}], "mark": {"type": "point", "shape": "circle", "filled": true, "fill": "#ffffff", "stroke": "#000000", "strokeWidth": 1.1, "size": 50, "opacity": 1}, "encoding": {"y": {"field": "v", "type": "quantitative", "scale": {"domain": [0, 100]}, "axis": null}}},
   {"transform": [{"filter": "isValid(datum.lab) && !isValid(datum.x)"}], "mark": {"type": "text", "align": "left", "baseline": "middle"}, "encoding": {"y": {"field": "ly", "type": "quantitative", "scale": {"domain": [0, 100]}, "axis": null}, "text": {"field": "lab"}}},
   {"transform": [{"filter": "isValid(datum.x)"}], "mark": {"type": "text", "align": "left", "baseline": "middle", "dx": 9}, "encoding": {"y": {"field": "ly", "type": "quantitative", "scale": {"domain": [0, 100]}, "axis": null}, "text": {"field": "lab"}}},
   {"transform": [{"filter": "isValid(datum.x)"}], "mark": {"type": "text", "align": "left", "baseline": "middle", "fontStyle": "italic"}, "encoding": {"y": {"field": "ly", "type": "quantitative", "scale": {"domain": [0, 100]}, "axis": null}, "text": {"field": "x"}}},
   {"transform": [{"filter": "isValid(datum.p)"}], "mark": {"type": "text", "align": "center", "baseline": "middle", "fontSize": 22}, "encoding": {"y": {"field": "ly", "type": "quantitative", "scale": {"domain": [0, 100]}, "axis": null}, "text": {"field": "p"}}}
  ]
 }
}
]
}
